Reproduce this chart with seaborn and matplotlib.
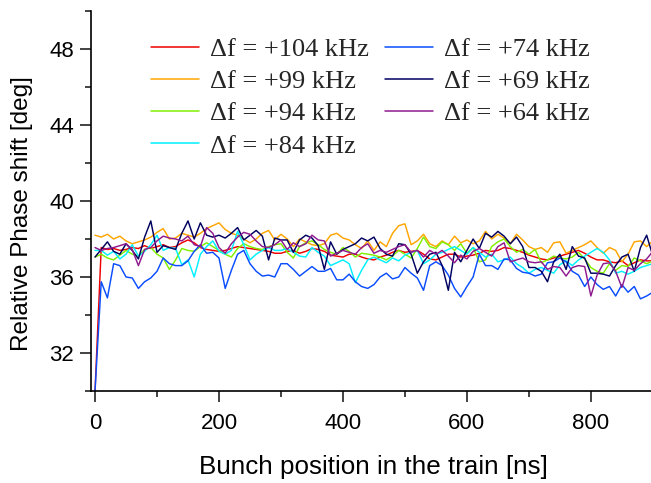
import numpy as np
import pandas as pd
import matplotlib
matplotlib.use("Agg")
import matplotlib.pyplot as plt
import seaborn as sns
from matplotlib.ticker import MultipleLocator

# Bunch positions (ns)
bunch_ns = list(range(0, 901, 10))

labels = ["Δf = +104 kHz", "Δf = +99 kHz", "Δf = +94 kHz", "Δf = +84 kHz",
          "Δf = +74 kHz", "Δf = +69 kHz", "Δf = +64 kHz"]
colors = ["#ee0000", "#ffa500", "#80f000", "#00f0ff", "#0a4dff", "#000060", "#8e1a8e"]

df_104 = [30.0, 37.55, 37.45, 37.5, 37.4, 37.45, 37.55, 37.5, 37.65, 37.5,
          37.6, 37.7, 37.55, 37.6, 37.8, 37.95, 37.8, 37.55, 37.45, 37.4,
          37.35, 37.4, 37.5, 37.6, 37.55, 37.5, 37.45, 37.4, 37.35, 37.25,
          37.25, 37.35, 37.4, 37.25, 37.35, 37.5, 37.45, 37.35, 37.15, 37.1,
          37.05, 37.2, 37.2, 37.05, 36.95, 36.9, 37.05, 37.15, 37.3, 37.4,
          37.3, 37.35, 37.4, 37.2, 36.95, 36.9, 37.05, 37.2, 37.2, 37.05,
          37.1, 37.15, 37.25, 37.4, 37.35, 37.4, 37.55, 37.5, 37.4, 37.3,
          37.15, 37.05, 36.95, 36.9, 37.0, 37.1, 37.2, 37.3, 37.4, 37.25,
          37.05, 36.9, 36.9, 36.8, 36.75, 36.85, 36.6, 36.75, 36.9, 36.85,
          36.85]

df_99 = [38.2, 38.1, 38.25, 38.0, 38.15, 37.9, 37.75, 37.85, 37.95, 38.1,
         38.35, 38.55, 38.0, 38.05, 38.3, 38.2, 38.1, 38.3, 38.55, 38.7,
         38.85, 38.5, 38.3, 38.2, 38.0, 37.8, 38.0, 38.3, 38.45, 37.95,
         38.25, 38.0, 37.6, 38.0, 37.85, 37.7, 37.65, 37.75, 38.2, 38.3,
         38.05, 37.95, 37.7, 37.5, 37.9, 37.4, 37.85, 37.6, 38.3, 38.7,
         38.8, 37.7, 37.9, 38.25, 37.75, 37.6, 37.9, 37.7, 38.15, 37.8,
         37.95, 37.75, 37.9, 38.4, 38.0, 38.25, 38.05, 37.75, 38.25, 37.95,
         37.6, 37.45, 37.55, 37.3, 37.8, 37.85, 37.25, 37.4, 37.55, 37.7,
         37.9, 37.55, 37.25, 37.55, 37.4, 36.8, 37.2, 37.85, 37.9, 37.6,
         37.9]

df_94 = [37.05, 37.2, 37.0, 36.9, 37.15, 37.4, 37.2, 37.1, 37.45, 37.55,
         37.2, 37.0, 36.4, 36.9, 37.5, 37.4, 37.35, 37.6, 37.8, 37.6,
         37.4, 37.2, 37.05, 37.5, 37.75, 37.6, 37.5, 37.45, 37.6, 37.7,
         37.75, 37.3, 37.0, 37.6, 37.8, 37.9, 37.7, 37.45, 37.3, 37.2,
         37.55, 37.35, 37.05, 37.25, 37.2, 37.15, 37.05, 36.9, 37.1, 37.4,
         37.2, 37.0, 37.5, 38.1, 37.6, 37.5, 37.85, 37.7, 37.4, 37.75,
         37.25, 37.55, 36.8, 36.9, 37.6, 37.85, 38.0, 37.6, 37.3, 37.45,
         37.2, 37.45, 36.75, 36.9, 37.1, 37.0, 36.95, 37.05, 37.3, 36.95,
         36.5, 36.3, 36.2, 36.7, 36.35, 36.6, 36.55, 37.0, 36.85, 36.7,
         36.85]

df_84 = [37.4, 37.4, 37.15, 37.35, 36.95, 37.2, 37.7, 37.1, 37.35, 37.7,
         38.2, 37.4, 37.55, 37.5, 36.65, 36.9, 36.0, 37.2, 37.6, 37.9,
         37.35, 37.2, 37.4, 38.4, 37.7, 36.9, 37.2, 37.4, 37.55, 37.4,
         37.4, 37.5, 37.3, 37.1, 37.05, 37.55, 37.3, 37.1, 36.6, 36.75,
         36.9, 36.7, 35.7, 36.35, 36.9, 37.05, 36.9, 36.75, 37.0, 36.85,
         37.15, 37.3, 37.4, 36.7, 36.9, 37.2, 37.3, 37.45, 37.6, 37.4,
         37.2, 37.55, 37.3, 37.05, 37.2, 36.8, 36.9, 37.05, 36.7, 36.5,
         36.2, 36.4, 36.5, 36.35, 36.2, 36.65, 36.85, 36.6, 36.9, 37.1,
         37.3, 37.5, 37.3, 36.9, 36.2, 36.3, 36.15, 36.3, 36.5, 36.6,
         36.7]

df_74 = [30.0, 35.75, 34.9, 36.7, 36.6, 36.0, 35.95, 35.4, 35.75, 35.95,
         36.3, 37.0, 36.7, 36.6, 36.6, 36.85, 37.35, 37.7, 37.25, 37.3,
         37.0, 35.4, 36.35, 37.2, 37.4, 36.7, 36.3, 36.05, 36.1, 36.0,
         36.7, 36.7, 36.4, 36.05, 36.3, 36.55, 36.3, 36.3, 36.45, 35.85,
         35.85, 36.15, 35.75, 35.5, 35.4, 35.6, 36.0, 36.2, 35.9, 36.0,
         36.5, 36.2, 35.95, 35.3, 36.6, 36.8, 36.6, 36.1, 35.4, 34.95,
         35.5, 36.0, 37.2, 36.6, 36.6, 36.4, 36.95, 36.9, 36.45, 36.25,
         36.2, 36.05, 36.15, 36.75, 36.8, 37.0, 36.8, 36.3, 36.1, 35.5,
         36.0, 35.6, 35.35, 35.5, 35.0, 35.6, 35.2, 35.5, 34.85, 35.0,
         35.2]

df_69 = [37.05, 37.45, 37.85, 37.35, 37.2, 37.75, 37.4, 36.95, 38.1, 38.95,
         37.3, 37.65, 37.55, 37.45, 38.3, 38.95, 38.0, 38.85, 38.2, 38.1,
         38.2, 38.05, 38.3, 38.6, 37.95, 38.2, 38.45, 38.15, 36.9, 38.05,
         37.95, 37.95, 37.3, 37.95, 38.2, 38.05, 37.65, 36.4, 37.85, 37.2,
         37.45, 37.6, 37.75, 38.05, 37.9, 38.1, 37.5, 37.2, 37.1, 37.75,
         37.7, 37.2, 36.2, 36.8, 37.2, 37.3, 36.6, 35.3, 37.3, 36.8,
         37.4, 38.0, 37.5, 38.3, 38.1, 38.4, 38.15, 37.75, 38.1, 37.6,
         36.5, 36.5, 36.3, 35.75, 36.8, 37.2, 36.4, 37.6, 37.1, 37.0,
         36.2, 36.2, 36.15, 36.05, 36.6, 37.05, 37.2, 36.3, 37.55, 38.2,
         37.1]

df_64 = [37.55, 37.4, 37.5, 37.55, 37.65, 37.75, 37.45, 36.6, 37.45, 37.55,
         37.9, 38.15, 38.05, 38.0, 37.9, 38.15, 37.7, 37.6, 38.6, 38.3,
         37.55, 37.25, 37.75, 38.1, 38.35, 38.25, 37.9, 37.6, 37.55, 37.7,
         37.95, 37.45, 37.8, 37.6, 37.75, 38.2, 37.95, 37.9, 37.1, 37.25,
         37.4, 37.3, 37.2, 37.55, 37.75, 37.25, 37.4, 37.3, 37.45, 37.6,
         37.7, 37.3, 37.4, 37.05, 37.4, 37.2, 37.4, 37.1, 36.75, 37.15,
         36.95, 37.35, 37.5, 37.3, 37.1, 37.6, 37.8, 36.8, 36.9, 37.0,
         36.8, 36.75, 36.8, 36.4, 36.55, 36.5, 36.05, 36.5, 36.6, 36.55,
         35.0, 36.1, 36.7, 36.75, 36.3, 35.45, 36.5, 36.35, 36.7, 36.95,
         37.35]

series = [df_104, df_99, df_94, df_84, df_74, df_69, df_64]

frames = []
for lab, vals in zip(labels, series):
    frames.append(pd.DataFrame({"ns": bunch_ns, "phase": vals, "series": lab}))
data = pd.concat(frames, ignore_index=True)

sns.set_theme(style="ticks")
plt.rcParams["font.family"] = ["Liberation Sans", "DejaVu Sans"]

fig = plt.figure(figsize=(6.51, 4.83), dpi=100)
ax = fig.add_axes([91 / 651, 1 - 391 / 483, 560 / 651, 380 / 483])

sns.lineplot(data=data, x="ns", y="phase", hue="series", hue_order=labels,
             palette=dict(zip(labels, colors)), estimator=None, sort=False,
             linewidth=1.05, ax=ax, legend=False)

ax.set_xlim(-6.5, 897)
ax.set_ylim(30, 50)
ax.xaxis.set_major_locator(MultipleLocator(200))
ax.xaxis.set_minor_locator(MultipleLocator(100))
ax.yaxis.set_major_locator(MultipleLocator(4))
ax.yaxis.set_minor_locator(MultipleLocator(2))
ax.set_yticks([32, 36, 40, 44, 48])

for side in ["top", "right"]:
    ax.spines[side].set_visible(False)
for side in ["left", "bottom"]:
    ax.spines[side].set_linewidth(1.2)
    ax.spines[side].set_color("black")

ax.tick_params(axis="both", which="major", length=8, width=1.2, color="#222222",
               labelsize=16, labelcolor="black", direction="out")
ax.tick_params(axis="both", which="minor", length=4, width=1.2, color="#222222",
               direction="out")
ax.tick_params(axis="x", which="major", pad=8)
ax.tick_params(axis="y", which="major", pad=4)

ax.set_xlabel("Bunch position in the train [ns]", fontsize=18.7, color="black")
ax.set_ylabel("Relative Phase shift [deg]", fontsize=17.5, color="black")
ax.xaxis.label.set_va("center")
ax.yaxis.label.set_va("center")
ax.xaxis.set_label_coords((373 - 91) / 560, (391 - 467) / 380)
ax.yaxis.set_label_coords((22 - 91) / 560, (391 - 214) / 380)

handles = [plt.Line2D([], [], color=c, lw=1.1) for c in colors]
leg = fig.legend(handles, labels, loc="upper left",
                 bbox_to_anchor=(151 / 651, 1 - 37.5 / 483), ncol=2,
                 frameon=False, prop={"family": "Liberation Serif", "size": 19},
                 handlelength=1.82, handletextpad=0.42, columnspacing=0.6,
                 labelspacing=0.33, borderpad=0, borderaxespad=0)

fig.savefig("out.png", dpi=100)
